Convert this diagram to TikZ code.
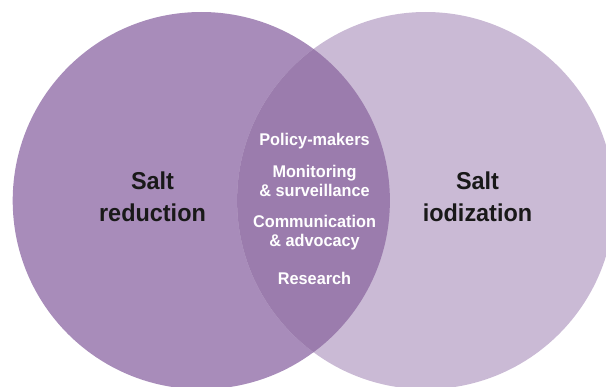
\documentclass[tikz,border=0pt]{standalone}
\usepackage{fontspec}
\setmainfont{Liberation Sans}[FakeStretch=0.96]
\usetikzlibrary{positioning}
\definecolor{reducefill}{RGB}{168,140,186}
\definecolor{iodfill}{RGB}{202,186,213}
\definecolor{bothfill}{RGB}{155,124,173}
\tikzset{
    reduceset/.style={
    fill=reducefill
    },
    iodset/.style={
    fill=iodfill
    },
    bothset/.style={
    fill=bothfill
    },
    biglabel/.style={
    anchor=base,align=center,text=black!90,font=\bfseries\fontsize{24.5}{32.4}\selectfont
    },
    midlabel/.style={
    anchor=base,align=center,text=white,font=\bfseries\fontsize{17}{18.5}\selectfont
    },
}
\begin{document}
\begin{tikzpicture}[x=1bp,y=1bp]
   \clip (0,0) rectangle (606,386);
   % the two sets
   \fill[reduceset] (201.3,185.4) circle (188.6);
   \fill[iodset] (425.7,185.4) circle (188.6);
   \begin{scope}
     \clip (201.3,185.4) circle (188.6);
     \fill[bothset] (425.7,185.4) circle (188.6);
   \end{scope}

   \node[biglabel] (red) at (152.5,164.3) {Salt\\reduction};
   \node[biglabel] (iod) at (477.5,164.3) {Salt\\iodization};

   \node[midlabel] (pol) at (314.5,240.3) {Policy-makers};
   \node[midlabel] (mon) at (314.5,190) {Monitoring\\\& surveillance};
   \node[midlabel] (com) at (314.5,139.7) {Communication\\\& advocacy};
   \node[midlabel] (res) at (314.5,101.7) {Research};
\end{tikzpicture}
\end{document}
